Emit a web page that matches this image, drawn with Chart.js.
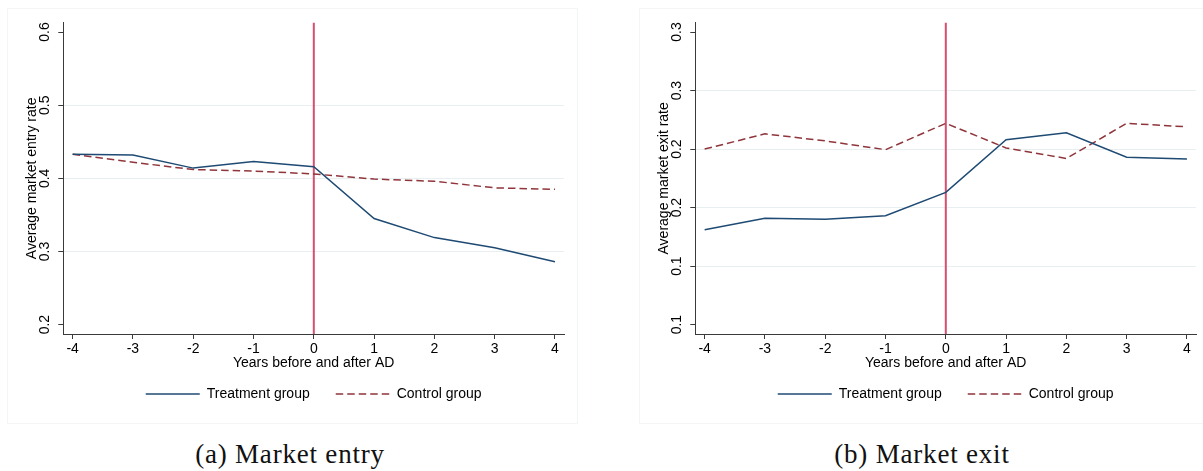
<!DOCTYPE html>
<html>
<head>
<meta charset="utf-8">
<script src="https://cdn.jsdelivr.net/npm/chart.js@4.4.0/dist/chart.umd.min.js"></script>
<style>
  body { margin: 0; background: #fff; width: 1203px; height: 471px; overflow: hidden; position: relative; }
  .panel { position: absolute; top: 8px; width: 571px; height: 416px; box-sizing: border-box; border: 1px solid #f4f5f5; }
  .panel canvas { position: absolute; left: 0; top: 0; }
  .caption { position: absolute; top: 438px; width: 400px; text-align: center; line-height: 32px;
             font-family: "Liberation Serif", "Times New Roman", serif; font-size: 27px; letter-spacing: 0.8px; color: #111; }
</style>
</head>
<body>
<div class="panel" style="left:7px"><canvas id="entryChart" width="569" height="414"></canvas></div>
<div class="panel" style="left:639px"><canvas id="exitChart" width="569" height="414"></canvas></div>
<div class="caption" style="left:90px">(a) Market entry</div>
<div class="caption" style="left:722px">(b) Market exit</div>

<script>
// years relative to the AD decision
const years = [-4, -3, -2, -1, 0, 1, 2, 3, 4];
const adYear = 0;

// (a) market entry
const entryTreatment = [0.433, 0.432, 0.414, 0.423, 0.416, 0.345, 0.319, 0.305, 0.286];
const entryControl   = [0.433, 0.422, 0.412, 0.410, 0.406, 0.399, 0.396, 0.387, 0.385];
const entryTicks = [0.2, 0.3, 0.4, 0.5, 0.6];
const entryTickLabels = ['0.2', '0.3', '0.4', '0.5', '0.6'];

// (b) market exit
const exitTreatment = [0.131, 0.141, 0.140, 0.143, 0.163, 0.208, 0.214, 0.193, 0.1915];
const exitControl   = [0.200, 0.213, 0.207, 0.1995, 0.222, 0.201, 0.192, 0.222, 0.219];
const exitTicks = [0.05, 0.10, 0.15, 0.20, 0.25, 0.30];
const exitTickLabels = ['0.1', '0.1', '0.2', '0.2', '0.3', '0.3'];

Chart.defaults.font.family = '"Liberation Sans", Arial, Helvetica, sans-serif';
Chart.defaults.font.size = 14;
Chart.defaults.color = '#000';

const navy = 'rgb(30,74,115)';
const maroon = 'rgb(144,53,59)';
const axisColor = '#3a3a3a';
const gridColor = '#e8eff0';

// vertical line at the AD year
const adLine = {
    id: 'adLine',
    beforeDatasetsDraw(chart) {
        const x = chart.scales.x.getPixelForValue(adYear);
        const { top, bottom } = chart.chartArea;
        const ctx = chart.ctx;
        ctx.save();
        ctx.strokeStyle = 'rgb(214,78,112)';
        ctx.lineWidth = 2;
        ctx.beginPath();
        ctx.moveTo(x, top);
        ctx.lineTo(x, bottom);
        ctx.stroke();
        ctx.restore();
    }
};

// legend entries drawn as short lines, dashed like their series
function lineLabels(chart) {
    const items = Chart.defaults.plugins.legend.labels.generateLabels(chart);
    items.forEach(item => {
        const ds = chart.data.datasets[item.datasetIndex];
        item.lineDash = ds.borderDash || [];
        item.strokeStyle = ds.borderColor;
        item.lineWidth = ds.borderWidth;
    });
    return items;
}

function makeChart(id, yTitle, treatment, control, ticks, tickLabels, yMin, yMax) {
    return new Chart(document.getElementById(id), {
        type: 'line',
        data: {
            labels: years,
            datasets: [{
                label: 'Treatment group',
                data: treatment,
                borderColor: navy,
                backgroundColor: navy,
                borderWidth: 1.5,
                pointRadius: 0,
                pointStyle: 'line',
                tension: 0
            }, {
                label: 'Control group',
                data: control,
                borderColor: maroon,
                backgroundColor: maroon,
                borderWidth: 1.5,
                borderDash: [7.5, 4],
                pointRadius: 0,
                pointStyle: 'line',
                tension: 0
            }]
        },
        options: {
            responsive: false,
            animation: false,
            layout: { padding: { top: 13.7, right: 13, bottom: 12, left: 0 } },
            plugins: {
                tooltip: { enabled: false },
                legend: {
                    position: 'bottom',
                    fullSize: false,
                    labels: {
                        usePointStyle: true,
                        pointStyleWidth: 54,
                        padding: 26,
                        color: '#000',
                        generateLabels: lineLabels
                    }
                }
            },
            scales: {
                x: {
                    type: 'linear',
                    min: -4.155,
                    max: 4.15,
                    afterBuildTicks: s => { s.ticks = years.map(v => ({ value: v })); },
                    afterFit: s => { s.height = 27; },
                    border: { color: axisColor, width: 1 },
                    grid: { drawOnChartArea: false, tickLength: 5, tickColor: axisColor },
                    ticks: { padding: 2, maxRotation: 0, callback: v => String(v) },
                    title: { display: true, text: 'Years before and after AD', padding: { top: 0, bottom: -11 } }
                },
                y: {
                    min: yMin,
                    max: yMax,
                    afterBuildTicks: s => { s.ticks = ticks.map(v => ({ value: v })); },
                    afterFit: s => { s.width = 55.3; },
                    border: { color: axisColor, width: 1 },
                    grid: {
                        tickLength: 5,
                        tickColor: axisColor,
                        color: c => (c.index === 0 || c.index === ticks.length - 1) ? 'rgba(0,0,0,0)' : gridColor
                    },
                    ticks: {
                        minRotation: 90,
                        maxRotation: 90,
                        crossAlign: 'center',
                        padding: 3,
                        callback: (v, i) => tickLabels[i]
                    },
                    title: { display: true, text: yTitle, padding: { top: 15.5, bottom: 0 } }
                }
            }
        },
        plugins: [adLine]
    });
}

makeChart('entryChart', 'Average market entry rate', entryTreatment, entryControl,
    entryTicks, entryTickLabels, 0.1872, 0.6128);
makeChart('exitChart', 'Average market exit rate', exitTreatment, exitControl,
    exitTicks, exitTickLabels, 0.042, 0.308);
</script>
</body>
</html>
